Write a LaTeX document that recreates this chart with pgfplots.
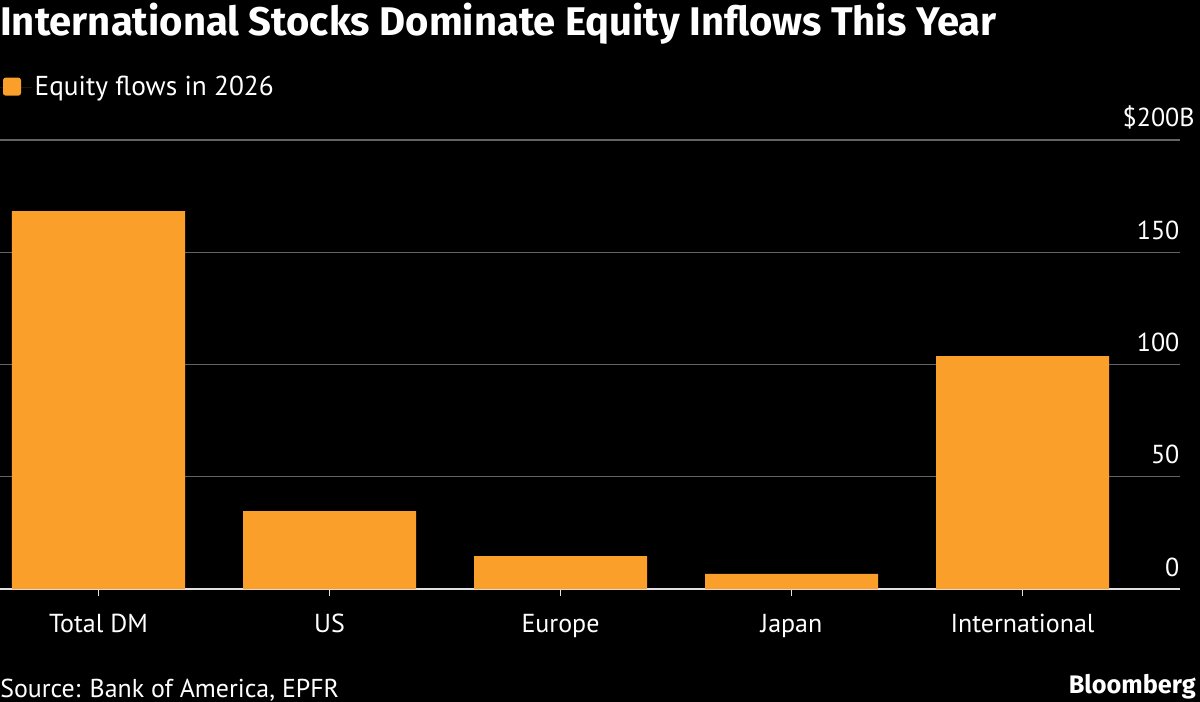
\documentclass[border=0pt]{standalone}
\usepackage{fontspec}
\setmainfont{PT Sans}
\newfontfamily\titlefont{Fira Sans}[UprightFont=* Bold]
\usepackage{pgfplots}
\pgfplotsset{compat=1.18}
\definecolor{barorange}{RGB}{250,160,42}
\definecolor{gridgray}{RGB}{100,100,100}
\definecolor{axiswhite}{RGB}{225,225,225}
\newcommand{\lbl}{\fontsize{19.5}{23}\selectfont}
\begin{document}
\begin{tikzpicture}
\fill[black] (0pt,0pt) rectangle (900pt,-526.5pt);
\path[use as bounding box] (0pt,0pt) rectangle (900pt,-526.5pt);
\begin{scope}[x=0.75pt,y=-0.75pt]
\node[anchor=base west, inner sep=0, text=white, font=\fontsize{30}{36}\titlefont] at (0,36) {International Stocks Dominate Equity Inflows This Year};
\node[anchor=base west, inner sep=0, text=white, font=\fontsize{19.4}{23}\selectfont] at (0,697) {Source: Bank of America, EPFR};
\node[anchor=base east, inner sep=0, text=white, font=\fontsize{19}{23}\titlefont] at (1196,693) {Bloomberg};
\end{scope}
\begin{axis}[
  at={(0pt,-441.75pt)}, anchor=south west,
  scale only axis, width=885pt, height=336.75pt,
  xmin=-0.4264, xmax=4.6818, ymin=0, ymax=200,
  axis x line*=bottom, axis y line*=right,
  y axis line style={draw=none},
  x axis line style={axiswhite, line width=1pt},
  xtick=data,
  xticklabels={Total DM, US, Europe, Japan, International},
  xtick style={axiswhite, line width=1pt},
  tick align=outside,
  major tick length=5.25pt,
  xticklabel style={anchor=base, inner sep=0pt, yshift=-27.5pt, text=white, font=\lbl},
  ytick={0,50,100,150,200},
  yticklabels={0,50,100,150,\$200\rlap{B}},
  ytick style={draw=none},
  yticklabel style={anchor=base east, inner sep=0pt, xshift=-5.5pt, yshift=9.75pt, text=white, font=\lbl},
  ymajorgrids, grid style={gridgray, line width=1pt},
  legend style={at={(0.0,1.148)}, anchor=north west, draw=none, fill=none, text=white, font=\fontsize{20.5}{24}\selectfont, inner sep=0pt, outer sep=0pt},
  legend image code/.code={\path (0pt,0pt) rectangle (24pt,0pt); \fill[barorange, rounded corners=2pt] (2.25pt,-6.5pt) rectangle (15.75pt,7pt);},
  legend cell align=left,
]
\addplot[ybar, bar width=129.75pt, fill=barorange, draw=none] coordinates {(0,168.3) (1,34.7) (2,14.7) (3,6.7) (4,103.7)};
\addlegendentry{Equity flows in 2026}
\end{axis}
\end{tikzpicture}
\end{document}
